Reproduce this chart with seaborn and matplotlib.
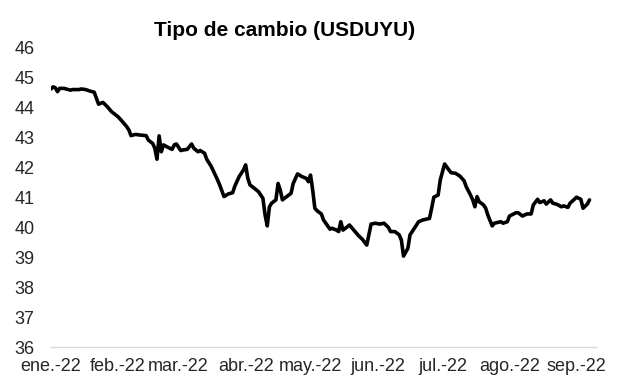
import pandas as pd
import matplotlib
matplotlib.use("Agg")
import matplotlib.pyplot as plt
import seaborn as sns

# ---- data ----
dates = [
    # ene
    "2022-01-01", "2022-01-02", "2022-01-03", "2022-01-04", "2022-01-05", "2022-01-07",
    "2022-01-08", "2022-01-10", "2022-01-11", "2022-01-14", "2022-01-15", "2022-01-17",
    "2022-01-19", "2022-01-21", "2022-01-22", "2022-01-23", "2022-01-25", "2022-01-27",
    "2022-01-29",
    # feb
    "2022-02-01", "2022-02-03", "2022-02-05", "2022-02-06", "2022-02-07", "2022-02-09",
    "2022-02-11", "2022-02-14", "2022-02-15", "2022-02-17", "2022-02-18", "2022-02-19",
    "2022-02-20", "2022-02-21", "2022-02-22", "2022-02-24", "2022-02-26", "2022-02-27",
    "2022-02-28",
    # mar
    "2022-03-02", "2022-03-03", "2022-03-05", "2022-03-07", "2022-03-08", "2022-03-10",
    "2022-03-11", "2022-03-13", "2022-03-14", "2022-03-16", "2022-03-17", "2022-03-19",
    "2022-03-20", "2022-03-22", "2022-03-24", "2022-03-26", "2022-03-27", "2022-03-29",
    "2022-03-31",
    # abr
    "2022-04-01", "2022-04-02", "2022-04-03", "2022-04-05", "2022-04-07", "2022-04-09",
    "2022-04-10", "2022-04-11", "2022-04-12", "2022-04-13", "2022-04-15", "2022-04-16",
    "2022-04-17", "2022-04-18", "2022-04-20", "2022-04-22", "2022-04-23", "2022-04-25",
    "2022-04-27", "2022-04-29", "2022-04-30",
    # may
    "2022-05-01", "2022-05-02", "2022-05-03", "2022-05-04", "2022-05-06", "2022-05-07",
    "2022-05-10", "2022-05-11", "2022-05-13", "2022-05-14", "2022-05-15", "2022-05-16",
    "2022-05-18", "2022-05-19", "2022-05-21", "2022-05-23", "2022-05-25", "2022-05-27",
    "2022-05-29", "2022-05-31",
    # jun
    "2022-06-02", "2022-06-04", "2022-06-06", "2022-06-07", "2022-06-09", "2022-06-11",
    "2022-06-12", "2022-06-13", "2022-06-15", "2022-06-16", "2022-06-18", "2022-06-20",
    "2022-06-22", "2022-06-25", "2022-06-26", "2022-06-27", "2022-06-29", "2022-06-30",
    # jul
    "2022-07-02", "2022-07-04", "2022-07-05", "2022-07-07", "2022-07-09", "2022-07-11",
    "2022-07-12", "2022-07-14", "2022-07-15", "2022-07-16", "2022-07-17", "2022-07-18",
    "2022-07-20", "2022-07-21", "2022-07-22", "2022-07-24", "2022-07-25", "2022-07-28",
    "2022-07-29", "2022-07-31",
    # ago
    "2022-08-01", "2022-08-04", "2022-08-05", "2022-08-07", "2022-08-09", "2022-08-11",
    "2022-08-12", "2022-08-14", "2022-08-15", "2022-08-17", "2022-08-18", "2022-08-20",
    "2022-08-21", "2022-08-23", "2022-08-25", "2022-08-26", "2022-08-28", "2022-08-29",
    "2022-08-31",
    # sep
    "2022-09-01", "2022-09-03", "2022-09-04", "2022-09-06", "2022-09-07",
]

usduyu = [
    # ene
    44.63, 44.70, 44.67, 44.54, 44.65, 44.65,
    44.63, 44.59, 44.61, 44.61, 44.63, 44.61,
    44.56, 44.52, 44.32, 44.12, 44.18, 44.04,
    43.87,
    # feb
    43.70, 43.54, 43.37, 43.26, 43.07, 43.11,
    43.09, 43.07, 42.92, 42.81, 42.65, 42.28,
    43.06, 42.53, 42.76, 42.68, 42.61, 42.76,
    42.79,
    # mar
    42.57, 42.59, 42.61, 42.79, 42.65, 42.53,
    42.57, 42.48, 42.28, 42.05, 41.90, 41.59,
    41.42, 41.03, 41.12, 41.16, 41.38, 41.70,
    41.92,
    # abr
    42.09, 41.64, 41.42, 41.31, 41.19, 40.97,
    40.41, 40.05, 40.69, 40.81, 40.92, 41.47,
    41.25, 40.92, 41.03, 41.14, 41.47, 41.79,
    41.70, 41.64, 41.53,
    # may
    41.75, 41.25, 40.64, 40.56, 40.45, 40.25,
    39.94, 39.97, 39.91, 39.86, 40.19, 39.91,
    40.02, 40.08, 39.91, 39.74, 39.60, 39.41,
    40.11, 40.14,
    # jun
    40.11, 40.14, 40.00, 39.86, 39.86, 39.75,
    39.58, 39.04, 39.30, 39.75, 39.97, 40.19,
    40.25, 40.30, 40.64, 41.01, 41.08, 41.59,
    # jul
    42.12, 41.92, 41.83, 41.81, 41.72, 41.56,
    41.36, 41.08, 40.92, 40.69, 41.03, 40.86,
    40.75, 40.64, 40.41, 40.05, 40.14, 40.19,
    40.14, 40.19,
    # ago
    40.38, 40.49, 40.49, 40.38, 40.45, 40.45,
    40.75, 40.94, 40.83, 40.89, 40.78, 40.92,
    40.81, 40.77, 40.69, 40.72, 40.67, 40.81,
    40.94,
    # sep
    41.01, 40.94, 40.64, 40.78, 40.92,
]

month_ticks = ["2022-01-01", "2022-02-01", "2022-03-01", "2022-04-01", "2022-05-01",
               "2022-06-01", "2022-07-01", "2022-08-01", "2022-09-01"]
month_labels = ["ene.-22", "feb.-22", "mar.-22", "abr.-22", "may.-22",
                "jun.-22", "jul.-22", "ago.-22", "sep.-22"]
y_ticks = [36, 37, 38, 39, 40, 41, 42, 43, 44, 45, 46]
title = "Tipo de cambio (USDUYU)"

df = pd.DataFrame({"fecha": pd.to_datetime(dates), "USDUYU": usduyu})

sns.set_theme(style="white")
plt.rcParams["font.family"] = ["Liberation Sans", "DejaVu Sans"]

W, H = 617, 392
fig = plt.figure(figsize=(W / 100, H / 100), dpi=100)
ax = fig.add_axes([51 / W, (H - 347) / H, (596 - 51) / W, (347 - 48) / H])

sns.lineplot(data=df, x="fecha", y="USDUYU", ax=ax, color="black", linewidth=2.6)

ax.set_xlim(pd.Timestamp("2022-01-01"), pd.Timestamp("2022-09-10"))
ax.set_ylim(36, 46)
ax.set_yticks(y_ticks)
ax.set_yticklabels([str(v) for v in y_ticks], fontsize=13, color="#262626")
ax.set_xticks(pd.to_datetime(month_ticks))
ax.set_xticklabels(month_labels, fontsize=13, color="#262626")
ax.set_xlabel("")
ax.set_ylabel("")

for s in ["left", "right", "top"]:
    ax.spines[s].set_visible(False)
ax.spines["bottom"].set_color("#d9d9d9")
ax.spines["bottom"].set_linewidth(1.0)
ax.tick_params(axis="x", which="major", direction="out", length=5, width=1.0,
               color="#d9d9d9", pad=3)
ax.tick_params(axis="y", length=0, pad=12)
ax.grid(False)

fig.text(285 / W, 1 - 31 / H, title, ha="center", va="center",
         fontsize=15, fontweight="bold", color="black")

fig.savefig("out.png", dpi=100, facecolor="white")
